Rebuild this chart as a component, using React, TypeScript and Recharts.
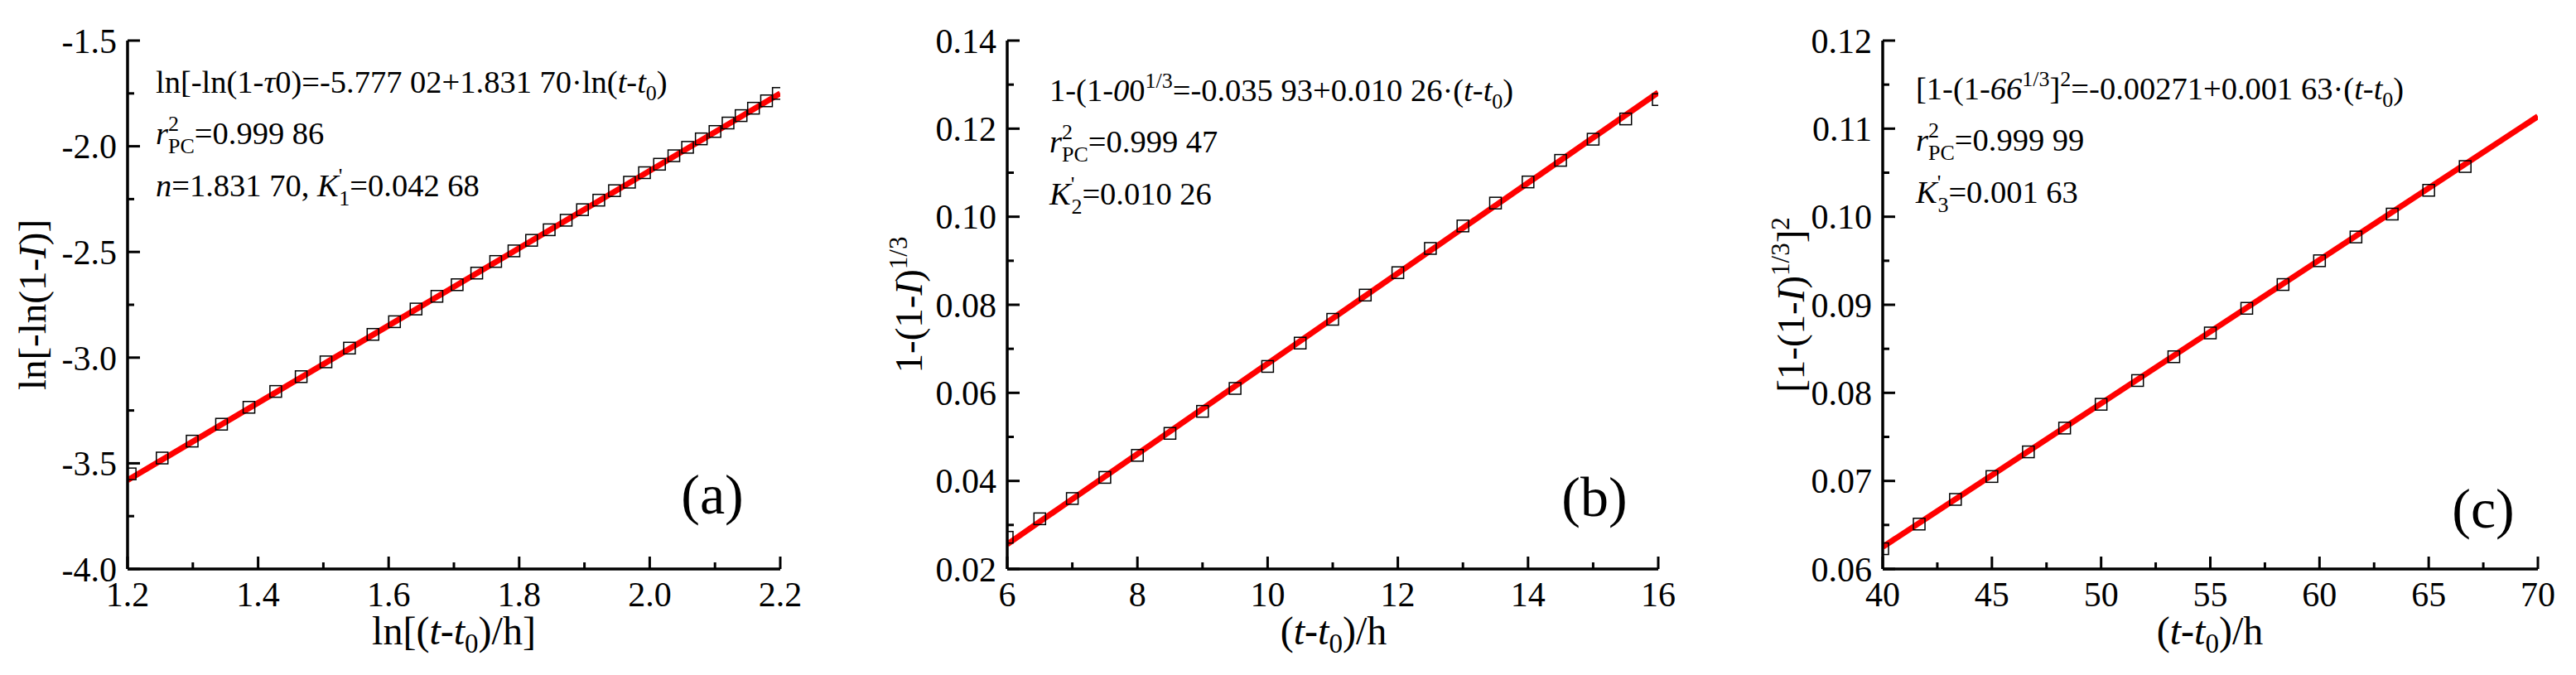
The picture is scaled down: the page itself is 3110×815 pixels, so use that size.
import React from "react";
import { ComposedChart, Scatter, Line, XAxis, YAxis } from "recharts";

const SERIF = "'Liberation Serif', 'Times New Roman', serif";
const EQ = 38.5;
const SUB = 26;

// (a) ln[-ln(1-α)] against ln(t-t0)
const aX = [1.204, 1.253, 1.299, 1.344, 1.386, 1.427, 1.466, 1.504, 1.540, 1.576, 1.609, 1.642, 1.674, 1.705, 1.735, 1.764, 1.792, 1.819, 1.846, 1.872, 1.897, 1.922, 1.946, 1.969, 1.992, 2.015, 2.037, 2.058, 2.079, 2.100, 2.120, 2.140, 2.159, 2.179, 2.197];
const aY = [-3.55, -3.475, -3.395, -3.315, -3.235, -3.16, -3.09, -3.02, -2.955, -2.89, -2.83, -2.77, -2.71, -2.655, -2.6, -2.545, -2.495, -2.445, -2.395, -2.35, -2.3, -2.255, -2.21, -2.17, -2.125, -2.085, -2.045, -2.005, -1.965, -1.93, -1.89, -1.855, -1.82, -1.785, -1.75];
const aFitX = [1.2, 2.2];
const aFitY = [-3.58, -1.75];
const aXMajor = [1.2, 1.4, 1.6, 1.8, 2.0, 2.2];
const aXMinor = [1.3, 1.5, 1.7, 1.9, 2.1];
const aYMajor = [-4.0, -3.5, -3.0, -2.5, -2.0, -1.5];
const aYMinor = [-3.75, -3.25, -2.75, -2.25, -1.75];

// (b) 1-(1-α)^(1/3) against t-t0
const bX = [6, 6.5, 7, 7.5, 8, 8.5, 9, 9.5, 10, 10.5, 11, 11.5, 12, 12.5, 13, 13.5, 14, 14.5, 15, 15.5, 16];
const bY = [0.0272, 0.0314, 0.036, 0.0408, 0.0458, 0.0508, 0.0558, 0.061, 0.066, 0.0713, 0.0767, 0.0822, 0.0873, 0.0928, 0.0979, 0.1031, 0.1079, 0.1128, 0.1176, 0.1222, 0.1266];
const bFitX = [6, 16];
const bFitY = [0.0256, 0.1282];
const bXMajor = [6, 8, 10, 12, 14, 16];
const bXMinor = [7, 9, 11, 13, 15];
const bYMajor = [0.02, 0.04, 0.06, 0.08, 0.1, 0.12, 0.14];
const bYMinor = [0.03, 0.05, 0.07, 0.09, 0.11, 0.13];

// (c) [1-(1-α)^(1/3)]^2 against t-t0
const cX = [40, 41.67, 43.33, 45, 46.67, 48.33, 50, 51.67, 53.33, 55, 56.67, 58.33, 60, 61.67, 63.33, 65, 66.67];
const cY = [0.0623, 0.0651, 0.0679, 0.0705, 0.0733, 0.076, 0.0787, 0.0814, 0.0841, 0.0868, 0.0896, 0.0923, 0.095, 0.0977, 0.1003, 0.103, 0.1057];
const cFitX = [40, 70];
const cFitY = [0.0625, 0.1114];
const cXMajor = [40, 45, 50, 55, 60, 65, 70];
const cXMinor = [42.5, 47.5, 52.5, 57.5, 62.5, 67.5];
const cYMajor = [0.06, 0.07, 0.08, 0.09, 0.1, 0.11, 0.12];
const cYMinor = [0.065, 0.075, 0.085, 0.095, 0.105, 0.115];

const pairs = (xs: number[], ys: number[]) => xs.map((x, i) => ({ x, y: ys[i] }));

const Square = (props: any) => {
  const { cx, cy } = props;
  return <rect x={cx - 7} y={cy - 7} width={14} height={14} fill="none" stroke="#000" strokeWidth={1.5} />;
};

const XTick = (props: any) => {
  const { x, y, payload, major, digits } = props;
  const isMajor = major.includes(payload.value);
  return (
    <g>
      <line x1={x} x2={x} y1={y} y2={y - (isMajor ? 15 : 8)} stroke="#000" strokeWidth={3} />
      {isMajor && (
        <text x={x} y={y + 45} textAnchor="middle" fontSize={42} fontFamily={SERIF} fill="#000">
          {payload.value.toFixed(digits)}
        </text>
      )}
    </g>
  );
};

const YTick = (props: any) => {
  const { x, y, payload, major, digits } = props;
  const isMajor = major.includes(payload.value);
  return (
    <g>
      <line x1={x} x2={x + (isMajor ? 15 : 8)} y1={y} y2={y} stroke="#000" strokeWidth={3} />
      {isMajor && (
        <text x={x - 13} y={y} dy="0.35em" textAnchor="end" fontSize={42} fontFamily={SERIF} fill="#000">
          {payload.value.toFixed(digits)}
        </text>
      )}
    </g>
  );
};

interface PanelProps {
  left: number;
  width: number;
  yAxisWidth: number;
  right: number;
  xDomain: [number, number];
  yDomain: [number, number];
  xMajor: number[];
  xMinor: number[];
  yMajor: number[];
  yMinor: number[];
  xDigits: number;
  yDigits: number;
  points: { x: number; y: number }[];
  fit: { x: number; y: number }[];
  children: React.ReactNode;
}

const axisLine = { stroke: "#000", strokeWidth: 3.5 };

const Panel = (p: PanelProps) => {
  const xTicks = [...p.xMajor, ...p.xMinor].sort((a, b) => a - b);
  const yTicks = [...p.yMajor, ...p.yMinor].sort((a, b) => a - b);
  return (
    <div style={{ position: "absolute", left: p.left, top: 0, width: p.width, height: 815 }}>
      <ComposedChart width={p.width} height={815} margin={{ top: 49, right: p.right, bottom: 28, left: 0 }}>
        <XAxis
          dataKey="x"
          type="number"
          domain={p.xDomain}
          ticks={xTicks}
          interval={0}
          height={100}
          tickSize={0}
          tickMargin={0}
          axisLine={axisLine}
          tickLine={false}
          tick={(t: any) => <XTick {...t} major={p.xMajor} digits={p.xDigits} />}
          allowDataOverflow
        />
        <XAxis xAxisId="top" orientation="top" type="number" domain={p.xDomain} height={0} tick={false} tickLine={false} axisLine={axisLine} />
        <YAxis
          dataKey="y"
          type="number"
          domain={p.yDomain}
          ticks={yTicks}
          interval={0}
          width={p.yAxisWidth}
          tickSize={0}
          tickMargin={0}
          axisLine={axisLine}
          tickLine={false}
          tick={(t: any) => <YTick {...t} major={p.yMajor} digits={p.yDigits} />}
          allowDataOverflow
        />
        <YAxis yAxisId="right" orientation="right" type="number" domain={p.yDomain} width={0} tick={false} tickLine={false} axisLine={axisLine} />
        <Scatter data={p.points} dataKey="y" shape={<Square />} isAnimationActive={false} />
        <Line data={p.fit} dataKey="y" type="linear" stroke="#ff0000" strokeWidth={7} dot={false} activeDot={false} isAnimationActive={false} />
      </ComposedChart>
      <svg
        width={p.width}
        height={815}
        style={{ position: "absolute", left: 0, top: 0, fontFamily: SERIF, pointerEvents: "none" }}
        fill="#000"
      >
        {p.children}
      </svg>
    </div>
  );
};

const R2 = ({ x, y, value }: { x: number; y: number; value: string }) => (
  <text x={x} y={y} fontSize={EQ}>
    <tspan fontStyle="italic">r</tspan>
    <tspan fontSize={SUB} dy={-16}>2</tspan>
    <tspan fontSize={SUB} dx={-13} dy={27}>PC</tspan>
    <tspan dy={-11}>{value}</tspan>
  </text>
);

const Sub0 = () => (
  <>
    <tspan fontStyle="italic">t</tspan>-<tspan fontStyle="italic">t</tspan>
  </>
);

export default function App() {
  return (
    <div style={{ position: "absolute", left: 0, top: 0, width: 3110, height: 815, background: "#fff" }}>
      <Panel
        left={0}
        width={1000}
        yAxisWidth={154}
        right={58}
        xDomain={[1.2, 2.2]}
        yDomain={[-4.0, -1.5]}
        xMajor={aXMajor}
        xMinor={aXMinor}
        yMajor={aYMajor}
        yMinor={aYMinor}
        xDigits={1}
        yDigits={1}
        points={pairs(aX, aY)}
        fit={pairs(aFitX, aFitY)}
      >
        <text x={188} y={112} fontSize={EQ}>
          ln[-ln(1-<tspan fontStyle="italic">τ</tspan>0)=-5.777 02+1.831 70·ln(<Sub0 />
          <tspan fontSize={SUB} dy={9}>0</tspan>
          <tspan dy={-9}>)</tspan>
        </text>
        <R2 x={188} y={174} value="=0.999 86" />
        <text x={188} y={237} fontSize={EQ}>
          <tspan fontStyle="italic">n</tspan>=1.831 70, <tspan fontStyle="italic">K</tspan>
          <tspan fontSize={SUB} dy={-16}>'</tspan>
          <tspan fontSize={SUB} dx={-4} dy={27}>1</tspan>
          <tspan dy={-11}>=0.042 68</tspan>
        </text>
        <text x={860} y={620} fontSize={68} textAnchor="middle">(a)</text>
        <text x={548} y={778} fontSize={48} textAnchor="middle">
          ln[(<Sub0 />
          <tspan fontSize={33} dy={10}>0</tspan>
          <tspan dy={-10}>)/h]</tspan>
        </text>
        <text transform="translate(55,368) rotate(-90)" fontSize={47} textAnchor="middle">
          ln[-ln(1-<tspan fontStyle="italic">I</tspan>)]
        </text>
      </Panel>
      <Panel
        left={1000}
        width={1040}
        yAxisWidth={216}
        right={38}
        xDomain={[6, 16]}
        yDomain={[0.02, 0.14]}
        xMajor={bXMajor}
        xMinor={bXMinor}
        yMajor={bYMajor}
        yMinor={bYMinor}
        xDigits={0}
        yDigits={2}
        points={pairs(bX, bY)}
        fit={pairs(bFitX, bFitY)}
      >
        <text x={267} y={122} fontSize={EQ}>
          1-(1-<tspan fontStyle="italic">0</tspan>0
          <tspan fontSize={SUB} dy={-16}>1/3</tspan>
          <tspan dy={16}>=-0.035 93+0.010 26·(</tspan>
          <Sub0 />
          <tspan fontSize={SUB} dy={9}>0</tspan>
          <tspan dy={-9}>)</tspan>
        </text>
        <R2 x={267} y={184} value="=0.999 47" />
        <text x={267} y={247} fontSize={EQ}>
          <tspan fontStyle="italic">K</tspan>
          <tspan fontSize={SUB} dy={-16}>'</tspan>
          <tspan fontSize={SUB} dx={-4} dy={27}>2</tspan>
          <tspan dy={-11}>=0.010 26</tspan>
        </text>
        <text x={925} y={623} fontSize={68} textAnchor="middle">(b)</text>
        <text x={610} y={778} fontSize={48} textAnchor="middle">
          (<Sub0 />
          <tspan fontSize={33} dy={10}>0</tspan>
          <tspan dy={-10}>)/h</tspan>
        </text>
        <text transform="translate(113,368) rotate(-90)" fontSize={47} textAnchor="middle">
          1-(1-<tspan fontStyle="italic">I</tspan>)
          <tspan fontSize={31} dy={-18}>1/3</tspan>
        </text>
      </Panel>
      <Panel
        left={2040}
        width={1070}
        yAxisWidth={233}
        right={46}
        xDomain={[40, 70]}
        yDomain={[0.06, 0.12]}
        xMajor={cXMajor}
        xMinor={cXMinor}
        yMajor={cYMajor}
        yMinor={cYMinor}
        xDigits={0}
        yDigits={2}
        points={pairs(cX, cY)}
        fit={pairs(cFitX, cFitY)}
      >
        <text x={273} y={120} fontSize={EQ}>
          [1-(1-<tspan fontStyle="italic">66</tspan>
          <tspan fontSize={SUB} dy={-16}>1/3</tspan>
          <tspan dy={16}>]</tspan>
          <tspan fontSize={SUB} dy={-16}>2</tspan>
          <tspan dy={16}>=-0.00271+0.001 63·(</tspan>
          <Sub0 />
          <tspan fontSize={SUB} dy={9}>0</tspan>
          <tspan dy={-9}>)</tspan>
        </text>
        <R2 x={273} y={182} value="=0.999 99" />
        <text x={273} y={245} fontSize={EQ}>
          <tspan fontStyle="italic">K</tspan>
          <tspan fontSize={SUB} dy={-16}>'</tspan>
          <tspan fontSize={SUB} dx={-4} dy={27}>3</tspan>
          <tspan dy={-11}>=0.001 63</tspan>
        </text>
        <text x={958} y={637} fontSize={68} textAnchor="middle">(c)</text>
        <text x={628} y={778} fontSize={48} textAnchor="middle">
          (<Sub0 />
          <tspan fontSize={33} dy={10}>0</tspan>
          <tspan dy={-10}>)/h</tspan>
        </text>
        <text transform="translate(138,368) rotate(-90)" fontSize={47} textAnchor="middle">
          [1-(1-<tspan fontStyle="italic">I</tspan>)
          <tspan fontSize={31} dy={-18}>1/3</tspan>
          <tspan dy={18}>]</tspan>
          <tspan fontSize={31} dy={-18}>2</tspan>
        </text>
      </Panel>
    </div>
  );
}
